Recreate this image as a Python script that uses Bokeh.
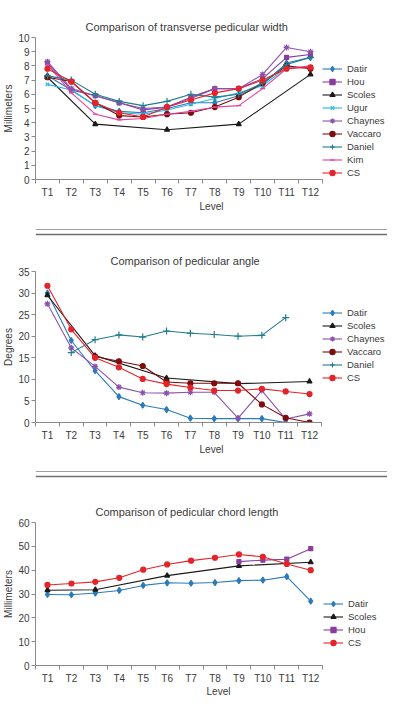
from bokeh.plotting import figure
from bokeh.layouts import column
from bokeh.models import Range1d, FixedTicker, Legend, LegendItem, Label, Span, Title
from bokeh.embed import file_html
from bokeh.resources import INLINE

levels = ["T1", "T2", "T3", "T4", "T5", "T6", "T7", "T8", "T9", "T10", "T11", "T12"]

# Panel A: transverse pedicular width (mm)
a_datir   = [7.3, 6.3, 5.2, 4.8, 4.7, 5.0, 5.4, 5.4, 5.9, 6.7, 8.2, 8.6]
a_hou     = [8.2, 6.3, 5.9, 5.4, 4.9, 5.1, 5.8, 6.4, 6.4, 7.1, 8.6, 8.8]
a_scoles  = [7.2, None, 3.9, None, None, 3.5, None, None, 3.9, None, None, 7.4]
a_ugur    = [6.7, 6.3, 5.2, 4.7, 4.6, 4.9, 5.3, 5.7, 6.1, 6.6, 7.9, 7.9]
a_chaynes = [8.3, 6.4, 5.9, 5.4, 5.0, 5.1, 5.7, 6.4, 6.4, 7.4, 9.3, 9.0]
a_vaccaro = [7.2, 6.9, 5.4, 4.5, 4.4, 4.6, 4.7, 5.1, 5.8, 6.8, 8.0, 7.8]
a_daniel  = [7.3, 7.0, 6.0, 5.5, 5.2, 5.5, 6.0, 5.8, 6.0, 6.8, 8.1, 8.6]
a_kim     = [8.1, 6.1, 4.6, 4.2, 4.3, 4.6, 4.8, 5.1, 5.2, 6.4, 7.8, 8.0]
a_cs      = [7.8, 6.9, 5.4, 4.7, 4.4, 5.1, 5.6, 6.1, 6.4, 7.0, 7.8, 7.9]

# Panel B: pedicular angle (degrees)
b_datir   = [30.0, 19.0, 12.0, 6.0, 4.0, 3.0, 1.0, 0.9, 0.9, 0.9, 0.0, None]
b_scoles  = [29.5, None, 15.5, None, None, 10.3, None, None, 9.0, None, None, 9.5]
b_chaynes = [27.5, 17.3, 13.0, 8.2, 6.9, 6.8, 7.0, 7.0, 1.0, 7.4, 0.8, 2.0]
b_vaccaro = [None, None, 15.3, 14.2, 13.1, 9.4, 9.1, 9.1, 9.1, 4.2, 1.1, 0.0]
b_daniel  = [None, 16.2, 19.2, 20.3, 19.8, 21.2, 20.7, 20.4, 20.0, 20.2, 24.3, None]
b_cs      = [31.7, 21.6, 15.0, 12.8, 10.1, 8.9, 8.1, 7.4, 7.4, 7.8, 7.2, 6.6]

# Panel C: pedicular chord length (mm)
c_datir  = [29.8, 29.7, 30.4, 31.5, 33.6, 34.7, 34.5, 34.8, 35.6, 35.8, 37.3, 27.0]
c_scoles = [31.6, None, 31.8, None, None, 37.7, None, None, 41.8, None, None, 43.3]
c_hou    = [None, None, None, None, None, None, None, None, 43.6, 44.2, 44.6, 49.0]
c_cs     = [33.8, 34.4, 35.1, 36.8, 40.2, 42.4, 44.0, 45.2, 46.6, 45.6, 42.6, 40.0]

FONT = "Liberation Sans"
TXT = "#3a3a3a"
AX = "#8a8a8a"
W = 387

C_DATIR = "#2b7bb9"
C_HOU = "#8a3d9e"
C_SCOLES = "#1a1a1a"
C_UGUR = "#2bb5e3"
C_CHAYNES = "#8c52ab"
C_VACCARO = "#7d0c0c"
C_DANIEL = "#227d8e"
C_KIM = "#e0449c"
C_CS = "#e3242b"


def make_panel(title, ylabel, ymax, ystep, height, top, left, bottom, axis_px,
               title_offset, spacer):
    n = len(levels)
    frame_w = W - left
    x_end = 0.5 + frame_w * n / axis_px
    p = figure(width=W, height=height, toolbar_location=None, output_backend="svg",
               x_range=Range1d(0.5, x_end), y_range=Range1d(0, ymax),
               min_border_top=top, min_border_left=left, min_border_right=0,
               min_border_bottom=bottom)
    if spacer:
        p.title.text = " "
        p.title.text_font_size = "1px"
        p.add_layout(Title(text=title, align="left", offset=title_offset,
                           text_font=FONT, text_font_size="11px",
                           text_font_style="normal", text_color=TXT), "above")
    else:
        p.title.text = title
        p.title.align = "left"
        p.title.offset = title_offset
        p.title.text_font = FONT
        p.title.text_font_size = "11px"
        p.title.text_font_style = "normal"
        p.title.text_color = TXT
    p.outline_line_color = None
    p.grid.visible = False
    xa = p.xaxis[0]
    xa.bounds = (0.5, n + 0.5)
    xa.ticker = FixedTicker(ticks=list(range(1, n + 1)),
                            minor_ticks=[i + 0.5 for i in range(n + 1)])
    xa.major_label_overrides = {i + 1: lv for i, lv in enumerate(levels)}
    xa.major_tick_out = 0
    xa.major_tick_in = 0
    xa.minor_tick_out = 4
    xa.minor_tick_in = 0
    xa.minor_tick_line_color = AX
    xa.axis_line_color = AX
    xa.major_label_standoff = 3
    ya = p.yaxis[0]
    ya.ticker = FixedTicker(ticks=list(range(0, ymax + 1, ystep)))
    ya.major_tick_out = 4
    ya.major_tick_in = 0
    ya.minor_tick_line_color = None
    ya.major_tick_line_color = AX
    ya.axis_line_color = AX
    ya.axis_label = ylabel
    ya.major_label_standoff = 2
    ya.axis_label_standoff = 1
    ya.axis_label_text_font = FONT
    ya.axis_label_text_font_size = "10px"
    ya.axis_label_text_font_style = "normal"
    ya.axis_label_text_color = TXT
    for ax in (xa, ya):
        ax.major_label_text_font = FONT
        ax.major_label_text_font_size = "10px"
        ax.major_label_text_color = TXT
    return p


def add_series(p, vals, color, marker, name, size=5):
    xs = [i + 1 for i, v in enumerate(vals) if v is not None]
    ys = [v for v in vals if v is not None]
    ln = p.line(xs, ys, line_color=color, line_width=1.1)
    sc = p.scatter(xs, ys, marker=marker, size=size, fill_color=color, line_color=color,
                   line_width=1.2)
    return LegendItem(label=name, renderers=[ln, sc])


def add_legend(p, items, x, y):
    lg = Legend(items=items, location=(x, y), border_line_color=None,
                background_fill_alpha=0, label_text_font=FONT,
                label_text_font_size="9.5px", label_text_color=TXT,
                glyph_width=20, glyph_height=13, label_height=13,
                spacing=0, padding=0, margin=0, label_standoff=5)
    p.add_layout(lg, "center")


def strip(height, letter, level_x, level_y, tag_y, lines):
    # band below a panel: x-axis title "Level", circled panel letter, separator rule
    s = figure(width=W, height=height, toolbar_location=None, output_backend="svg",
               x_range=Range1d(0, W), y_range=Range1d(0, height), x_axis_type=None,
               y_axis_type=None, min_border=0)
    s.outline_line_color = None
    s.grid.visible = False
    s.add_layout(Label(x=level_x, y=level_y, x_units="screen", y_units="screen",
                       text="Level", text_align="center", text_baseline="middle",
                       text_font=FONT, text_font_size="10px", text_color=TXT))
    s.add_layout(Label(x=380, y=tag_y, x_units="screen", y_units="screen", text=letter,
                       text_align="center", text_baseline="middle",
                       text_font=FONT, text_font_size="13px", text_color="#111111",
                       border_line_color="#111111", border_line_width=1,
                       border_radius=8, padding=dict(left=5, right=5, top=0, bottom=0)))
    for loc, col, lw in lines:
        s.add_layout(Span(location=loc, dimension="width", line_color=col, line_width=lw))
    return s


# Panel A
pa = make_panel("Comparison of transverse pedicular width", "Millimeters", 10, 1,
                200, 36, 30, 19, 291, 50, True)
items_a = [
    add_series(pa, a_datir, C_DATIR, "diamond", "Datir", 6),
    add_series(pa, a_hou, C_HOU, "square", "Hou", 4),
    add_series(pa, a_scoles, C_SCOLES, "triangle", "Scoles", 5),
    add_series(pa, a_ugur, C_UGUR, "x", "Ugur", 5),
    add_series(pa, a_chaynes, C_CHAYNES, "asterisk", "Chaynes", 6),
    add_series(pa, a_vaccaro, C_VACCARO, "circle", "Vaccaro", 5),
    add_series(pa, a_daniel, C_DANIEL, "cross", "Daniel", 7),
    add_series(pa, a_kim, C_KIM, "dash", "Kim", 5),
    add_series(pa, a_cs, C_CS, "circle", "CS", 5),
]
add_legend(pa, items_a, 287, 0)
sa = strip(38, "A", 176, 32, 27, [(9, "#a0a0a0", 1), (4, "#707070", 1.5)])

# Panel B
pb = make_panel("Comparison of pedicular angle", "Degrees", 35, 5,
                205, 33, 30, 19, 290, 75, False)
items_b = [
    add_series(pb, b_datir, C_DATIR, "diamond", "Datir", 6),
    add_series(pb, b_scoles, C_SCOLES, "triangle", "Scoles", 5),
    add_series(pb, b_chaynes, C_CHAYNES, "asterisk", "Chaynes", 6),
    add_series(pb, b_vaccaro, C_VACCARO, "circle", "Vaccaro", 5),
    add_series(pb, b_daniel, C_DANIEL, "cross", "Daniel", 7),
    add_series(pb, b_cs, C_CS, "circle", "CS", 5),
]
add_legend(pb, items_b, 287, 38)
sb = strip(35, "B", 176, 29, 25, [(7, "#a0a0a0", 1), (2, "#707070", 1.5)])

# Panel C
pc = make_panel("Comparison of pedicular chord length", "Millimeters", 60, 10,
                208, 44, 34, 19, 288, 60, True)
items_c = [
    add_series(pc, c_datir, C_DATIR, "diamond", "Datir", 6),
    add_series(pc, c_scoles, C_SCOLES, "triangle", "Scoles", 5),
    add_series(pc, c_hou, C_HOU, "square", "Hou", 4),
    add_series(pc, c_cs, C_CS, "circle", "CS", 5),
]
add_legend(pc, items_c, 288, 16)
sc_ = strip(17, "C", 183, 12, 8, [])

layout = column(pa, sa, pb, sb, pc, sc_)
open("out.html", "w").write(file_html(layout, INLINE))
